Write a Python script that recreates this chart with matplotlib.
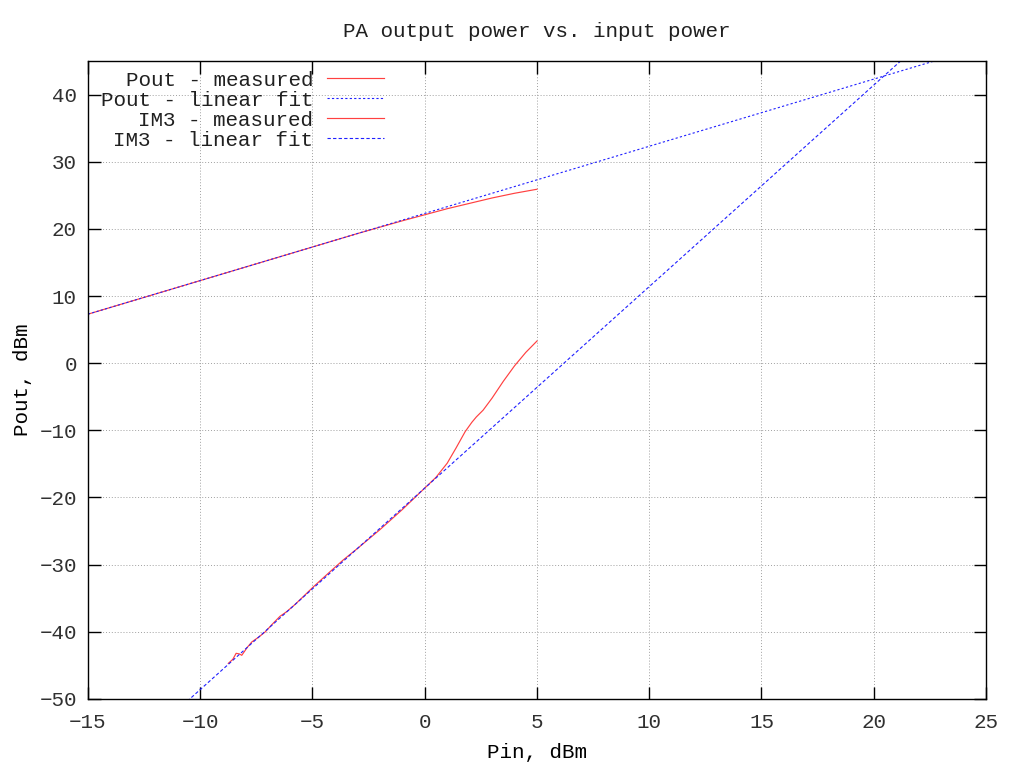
import matplotlib
matplotlib.use("Agg")
import matplotlib.pyplot as plt

pin_pout = [-15, -10, -5, -3, -2, -1, 0, 1, 2, 3, 4, 5]
pout_meas = [7.3, 12.3, 17.3, 19.3, 20.25, 21.2, 22.1, 23.0, 23.8, 24.6, 25.3, 25.9]

pin_im3 = [-8.75, -8.55, -8.4, -8.25, -8.15, -7.9, -7.7, -7.4, -7.1, -6.8, -6.45, -6.15,
           -5.8, -5.33, -4.96, -4.3, -3.63, -3.0, -2.5, -2.0, -1.5, -1.0, -0.5, 0.0,
           0.5, 1.0, 1.4, 1.8, 2.1, 2.3, 2.6, 3.0, 3.5, 4.0, 4.5, 5.0]
im3_meas = [-44.7, -44.1, -43.2, -43.3, -43.5, -42.3, -41.5, -40.8, -40.0, -38.9, -37.7, -37.0,
            -36.0, -34.5, -33.3, -31.3, -29.3, -27.6, -26.2, -24.8, -23.3, -21.8, -20.2, -18.6,
            -17.0, -14.9, -12.6, -10.2, -8.8, -8.0, -7.0, -5.2, -2.7, -0.4, 1.6, 3.3]

# linear fits (end points)
fit_x = [-15, 25]
pout_fit = [7.3, 47.3]
im3_fit = [-63.6, 56.4]

plt.rcParams['font.family'] = ['Liberation Mono', 'DejaVu Sans Mono']
plt.rcParams['font.size'] = 15
plt.rcParams['text.color'] = '#202020'

fig = plt.figure(figsize=(10.23, 7.67), dpi=100)
ax = fig.add_axes([0.086, 0.0887, 0.8778, 0.8318])

ax.plot(pin_pout, pout_meas, color='#ff4040', lw=0.85, label='Pout - measured')
ax.plot(fit_x, pout_fit, color='#2020ff', lw=0.8, ls=(0, (2, 2)), label='Pout - linear fit')
ax.plot(pin_im3, im3_meas, color='#ff4040', lw=0.85, label='IM3 - measured')
ax.plot(fit_x, im3_fit, color='#2020ff', lw=0.8, ls=(0, (3, 2)), label='IM3 - linear fit')

ax.set_xlim(-15, 25)
ax.set_ylim(-50, 45)
ax.set_xticks(range(-15, 26, 5))
ax.set_yticks(range(-50, 41, 10))
ax.grid(True, color='#a0a0a0', ls=(0, (1, 2)), lw=0.7)
ax.tick_params(direction='in', length=9, width=1, top=True, right=True, labelcolor='#303030')
ax.tick_params(axis='x', pad=10)
ax.tick_params(axis='y', pad=8)
for s in ax.spines.values():
    s.set_linewidth(1)

ax.set_title('PA output power vs. input power', fontsize=15, pad=17)
ax.set_xlabel('Pin, dBm', labelpad=8)
ax.set_ylabel('Pout, dBm', labelpad=5)

ax.legend(loc='upper right', bbox_to_anchor=(0.33, 0.985), frameon=False, markerfirst=False,
          labelspacing=0.05, handlelength=2.75, handletextpad=0.67, borderpad=0, borderaxespad=0)

fig.savefig('out.png', dpi=100)
